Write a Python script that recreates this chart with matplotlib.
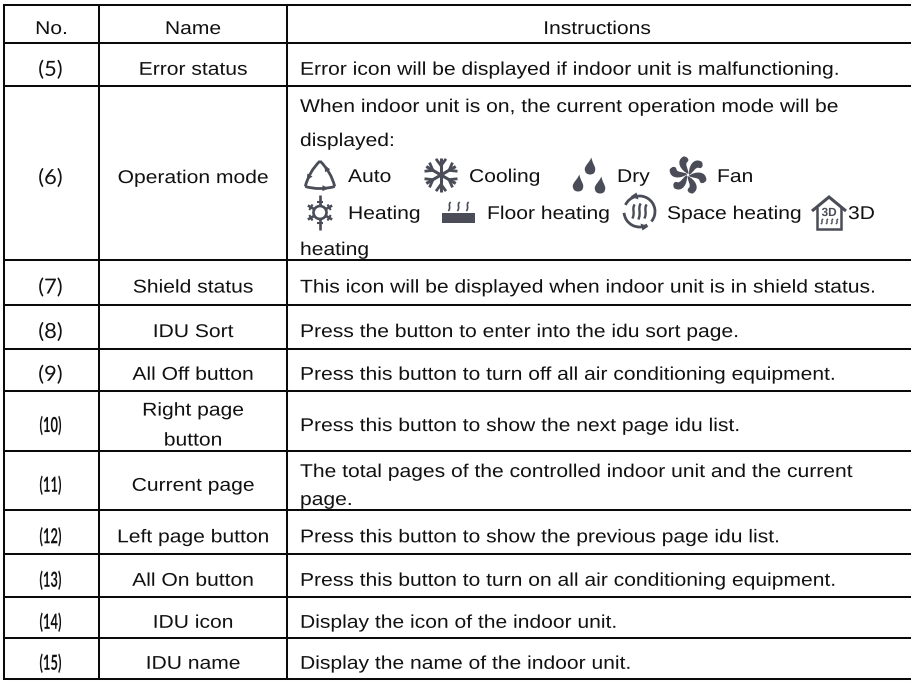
import numpy as np
import matplotlib
matplotlib.use('Agg')
import matplotlib.pyplot as plt
from matplotlib.path import Path
from matplotlib.patches import PathPatch, Circle, Rectangle, Polygon, Arc
from matplotlib.patheffects import AbstractPathEffect
from matplotlib.transforms import Affine2D

plt.rcParams['font.family'] = ['Liberation Sans', 'DejaVu Sans']

headers = ['No.', 'Name', 'Instructions']
numbers = ['(5)', '(6)', '(7)', '(8)', '(9)', '(10)', '(11)', '(12)', '(13)', '(14)', '(15)']
names = ['Error status', 'Operation mode', 'Shield status', 'IDU Sort', 'All Off button',
         'Right page\nbutton', 'Current page', 'Left page button', 'All On button',
         'IDU icon', 'IDU name']
instructions = ['Error icon will be displayed if indoor unit is malfunctioning.',
                None,
                'This icon will be displayed when indoor unit is in shield status.',
                'Press the button to enter into the idu sort page.',
                'Press this button to turn off all air conditioning equipment.',
                'Press this button to show the next page idu list.',
                None,
                'Press this button to show the previous page idu list.',
                'Press this button to turn on all air conditioning equipment.',
                'Display the icon of the indoor unit.',
                'Display the name of the indoor unit.']

row_edges = [5, 43, 86, 259.5, 305, 348.5, 390.5, 451, 510, 554, 597, 638, 679]
col_edges = [4, 99, 287, 911]

INK = '#111111'
ICON = '#4a4d58'
FS = 13.3
WIDE = 1.14   # the scan is stretched sideways


class Stretch(AbstractPathEffect):
    # widen a text about its anchor
    def __init__(self, x0, sx):
        super().__init__()
        self.x0 = x0
        self.sx = sx

    def draw_path(self, renderer, gc, tpath, affine, rgbFace=None):
        aff = affine + Affine2D().translate(-self.x0, 0).scale(self.sx, 1).translate(self.x0, 0)
        renderer.draw_path(gc, tpath, aff, rgbFace)


fig = plt.figure(figsize=(9.11, 6.81), dpi=100)
ax = fig.add_axes([0, 0, 1, 1])
ax.set_xlim(0, 911)
ax.set_ylim(681, 0)
ax.axis('off')

ax.hlines(row_edges, col_edges[0] - 1, col_edges[-1], color='#0a0a0a', lw=1.45)
ax.vlines(col_edges[:3], row_edges[0], row_edges[-1], color='#0a0a0a', lw=1.45)


def txt(x, y, s, ha='left', sx=WIDE, **kw):
    kw.setdefault('fontsize', FS)
    kw.setdefault('color', INK)
    return ax.text(x, y, s, ha=ha, va='baseline', path_effects=[Stretch(x, sx)], **kw)


def stroke(verts, codes=None, lw=1.6, **kw):
    ax.add_patch(PathPatch(Path(verts, codes), fill=False, ec=ICON, lw=lw, capstyle='butt', **kw))


def squiggle(x, y0, y1, lw=1.0):
    # little heat wave, drawn top to bottom
    h = y1 - y0
    stroke([(x + 1.2, y0), (x - 2, y0 + h * 0.3), (x + 2, y0 + h * 0.6), (x - 1.2, y1)],
           [Path.MOVETO, Path.CURVE4, Path.CURVE4, Path.CURVE4], lw=lw)


def auto_icon(cx, cy, r):
    angles = np.radians([90, 210, 330])
    pts = [np.array([cx + r * np.cos(a), cy - r * np.sin(a)]) for a in angles]
    c = np.array([cx, cy])
    for i in range(3):
        a, b = pts[i], pts[(i + 1) % 3]
        ctrl = (a + b) / 2 + ((a + b) / 2 - c) * 0.5
        stroke([a, ctrl, b], [Path.MOVETO, Path.CURVE3, Path.CURVE3], lw=2.0)
        t = 0.72
        tip = (1 - t) ** 2 * a + 2 * t * (1 - t) * ctrl + t ** 2 * b
        d = b - a
        d = d / np.hypot(*d)
        n = np.array([-d[1], d[0]])
        ax.add_patch(Polygon([tip + d * 2, tip - d * 4 + n * 3, tip - d * 4 - n * 3], fc=ICON, ec='none'))


def snow_icon(cx, cy, r):
    for deg in range(0, 360, 60):
        a = np.radians(deg + 90)
        u = np.array([np.cos(a), -np.sin(a)])
        n = np.array([-u[1], u[0]])
        c = np.array([cx, cy])
        stroke([c, c + u * r], lw=2.2)
        stroke([c + u * r * 0.95 + n * 5, c + u * r * 0.55, c + u * r * 0.95 - n * 5], lw=2.0)


def drop(cx, cy, h, w):
    verts = [(cx + 1.5, cy - h / 2), (cx - w * 0.1, cy - h * 0.2), (cx - w / 2, cy), (cx - w / 2, cy + h * 0.17),
             (cx - w / 2, cy + h * 0.42), (cx - w * 0.25, cy + h / 2), (cx, cy + h / 2),
             (cx + w * 0.3, cy + h / 2), (cx + w / 2, cy + h * 0.42), (cx + w / 2, cy + h * 0.17),
             (cx + w / 2, cy), (cx + 2, cy - h * 0.2), (cx + 1.5, cy - h / 2)]
    codes = [Path.MOVETO] + [Path.CURVE4] * 12
    ax.add_patch(PathPatch(Path(verts, codes), fc=ICON, ec='none'))


def fan_icon(cx, cy, r):
    for deg in range(0, 360, 60):
        a = np.radians(deg)
        R = np.array([[np.cos(a), -np.sin(a)], [np.sin(a), np.cos(a)]])
        blade = np.array([[0.06, 0], [0.0, -0.45], [0.3, -0.95], [0.72, -0.7],
                          [0.85, -0.5], [0.72, -0.3], [0.56, -0.38], [0.38, -0.42], [0.3, -0.15], [0.06, 0]]) * r
        verts = blade @ R.T + [cx, cy]
        codes = [Path.MOVETO] + [Path.CURVE4] * 9
        ax.add_patch(PathPatch(Path(verts, codes), fc=ICON, ec='none'))


def sun_icon(cx, cy):
    ax.add_patch(Circle((cx, cy), 6.5, fill=False, ec=ICON, lw=1.9))
    for deg, L in zip(range(30, 390, 60), [14, 17.5, 14, 14, 17.5, 14]):
        a = np.radians(deg)
        u = np.array([np.cos(a), -np.sin(a)])
        n = np.array([-u[1], u[0]])
        c = np.array([cx, cy])
        stroke([c + u * 6.5, c + u * L], lw=1.9)
        stroke([c + u * 10.5 + n * 3.2, c + u * 10.5 - n * 3.2], lw=1.5)


def floor_icon(x0, x1, y0, y1):
    ax.add_patch(Rectangle((x0, y0), x1 - x0, y1 - y0, fc=ICON, ec='none'))
    for x in [x0 + 7.5, x0 + 16.5, x0 + 25.5]:
        squiggle(x, y0 - 11, y0 - 2, lw=1.2)


def space_icon(cx, cy, r):
    ax.add_patch(Arc((cx, cy), 2 * r, 2 * r, theta1=205, theta2=40 + 360, ec=ICON, lw=2.0))
    ax.add_patch(Arc((cx, cy), 2 * r, 2 * r, theta1=60, theta2=175, ec=ICON, lw=2.0))
    ax.add_patch(Polygon([(cx + 9, cy + 15), (cx + 1, cy + 12), (cx + 3, cy + 19)], fc=ICON, ec='none'))
    ax.add_patch(Polygon([(cx - 9, cy - 15), (cx - 1, cy - 12), (cx - 3, cy - 19)], fc=ICON, ec='none'))
    for dx, top in [(-6, 7), (0, 8), (6, 7)]:
        squiggle(cx + dx, cy - top, cy + top, lw=1.7)


def house_icon(cx, top, bottom):
    stroke([(cx - 17, top + 15), (cx, top + 1), (cx + 17, top + 15)], lw=2.2)
    stroke([(cx - 12, top + 11), (cx - 12, bottom), (cx + 12, bottom), (cx + 12, top + 11)], lw=1.8)
    txt(cx, top + 20, '3D', ha='center', sx=1.0, fontsize=8.5, fontweight='bold', color=ICON)
    for dx in [-7, -2, 3, 8]:
        squiggle(cx + dx, top + 23, top + 28, lw=1.0)


# header
mids = [(col_edges[i] + col_edges[i + 1]) / 2 for i in range(3)]
mids[2] = 597
for x, h in zip(mids, headers):
    txt(x, 34, h, ha='center')

# rows
for i, (num, name, ins) in enumerate(zip(numbers, names, instructions)):
    mid = (row_edges[i + 1] + row_edges[i + 2]) / 2
    base = mid + 10.3
    if len(num) == 3:
        txt(mids[0] - 1, base + 1, num, ha='center', sx=1.05, family=['Lato', 'DejaVu Sans'], fontsize=15)
    else:
        txt(mids[0] - 1, base + 1, num, ha='center', sx=0.62, family=['Lato', 'DejaVu Sans'],
            fontsize=15, fontweight='bold')
    if '\n' in name:
        a, b = name.split('\n')
        txt(mids[1], base - 15.5, a, ha='center')
        txt(mids[1], base + 14.5, b, ha='center')
    else:
        txt(mids[1], base, name, ha='center')
    if ins:
        txt(300, base, ins)

# the two multi line cells
txt(300, 112, 'When indoor unit is on, the current operation mode will be')
txt(300, 146, 'displayed:')
txt(348, 182, 'Auto')
txt(469, 182, 'Cooling')
txt(617, 182, 'Dry')
txt(717, 182, 'Fan')
txt(348, 219, 'Heating')
txt(487, 219, 'Floor heating')
txt(667, 219, 'Space heating')
txt(848, 219, '3D')
txt(300, 255, 'heating')
txt(300, 477, 'The total pages of the controlled indoor unit and the current')
txt(300, 505, 'page.')

# icons
auto_icon(320, 178, 17)
snow_icon(441, 175, 17)
drop(590, 166, 17, 10.5)
drop(578, 183, 17, 10.5)
drop(600, 185, 17, 10.5)
fan_icon(688, 175, 19)
sun_icon(320, 212.5)
floor_icon(442, 475, 213, 223)
space_icon(639.5, 211.5, 15.5)
house_icon(829, 196, 229)

fig.savefig('out.png', dpi=100)
